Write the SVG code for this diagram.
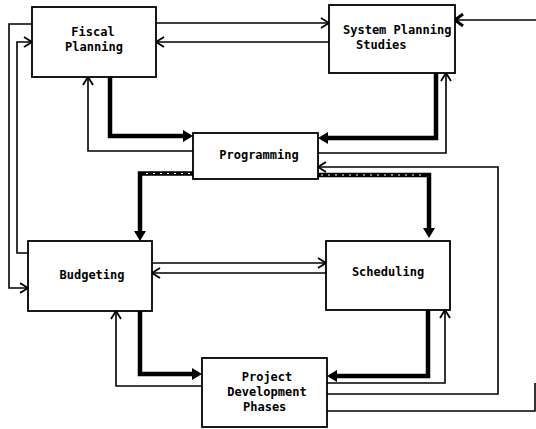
<svg xmlns="http://www.w3.org/2000/svg" width="536" height="429" viewBox="0 0 536 429">
  <style>
    .box { fill: #fff; stroke: #000; stroke-width: 1.8; }
    .lbl { font-family: "DejaVu Sans Mono", "Liberation Mono", monospace; font-weight: bold; font-size: 12px; fill: #000; }
    .thin { fill: none; stroke: #000; stroke-width: 1.6; marker-end: url(#open); }
    .thick { fill: none; stroke: #000; stroke-width: 4.5; stroke-linejoin: miter; marker-end: url(#solid); }
    .grain { fill: none; stroke: #fff; stroke-width: 1.2; stroke-dasharray: 2 5; }
    .plain { fill: none; stroke: #000; stroke-width: 1.6; }
  </style>
  <defs>
    <marker id="open" markerUnits="userSpaceOnUse" viewBox="-12 -8 16 16" markerWidth="16" markerHeight="16" refX="0" refY="0" orient="auto" overflow="visible">
      <path d="M-8,-5 L0,0 L-8,5" fill="none" stroke="#000" stroke-width="1.8"/>
    </marker>
    <marker id="openHeavy" markerUnits="userSpaceOnUse" viewBox="-12 -8 16 16" markerWidth="16" markerHeight="16" refX="0" refY="0" orient="auto" overflow="visible">
      <path d="M-8,-6 L0,0 L-8,6" fill="none" stroke="#000" stroke-width="3"/>
    </marker>
    <marker id="solid" markerUnits="userSpaceOnUse" viewBox="-12 -8 20 16" markerWidth="20" markerHeight="16" refX="0" refY="0" orient="auto" overflow="visible">
      <path d="M-6,-6 L4,0 L-6,6 Z" fill="#000"/>
    </marker>
  </defs>

  <!-- connectors -->
  <g id="connectors">
    <!-- thin feedback / exchange lines -->
    <path class="thin" d="M156,23 H329"/>
    <path class="thin" d="M329,42 H156"/>
    <path class="thin" d="M32,24 H9 V288 H28"/>
    <path class="thin" d="M28,253 H17 V42 H32"/>
    <path class="thin" d="M193,151 H88 V77"/>
    <path class="thin" d="M318,153 H446 V73"/>
    <path class="thin" d="M152,263 H326"/>
    <path class="thin" d="M326,273 H152"/>
    <path class="thin" d="M202,386 H116 V311"/>
    <path class="thin" d="M327,383 H445 V310"/>
    <path class="thin" d="M327,394 H498 V167 H318"/>
    <path class="plain" d="M327,411 H535 V383"/>
    <path class="plain" d="M536,20 H455" marker-end="url(#openHeavy)"/>

    <!-- heavy primary flow lines -->
    <path class="thick" d="M110,77 V136 H189"/>
    <path class="thick" d="M436,73 V138 H322"/>
    <path class="thick" d="M193,173.5 H140 V237"/>
    <path class="grain" d="M190,173.5 H143"/>
    <path class="thick" d="M318,175 H429 V234"/>
    <path class="grain" d="M321,175 H426"/>
    <path class="thick" d="M140,311 V374 H198"/>
    <path class="thick" d="M428,310 V376 H331"/>
  </g>

  <!-- nodes -->
  <g id="fiscal-planning">
    <rect class="box" x="32" y="7" width="124" height="70"/>
    <text class="lbl" x="93" y="36" text-anchor="middle">Fiscal</text>
    <text class="lbl" x="94" y="51" text-anchor="middle">Planning</text>
  </g>
  <g id="system-planning-studies">
    <rect class="box" x="329" y="5" width="126" height="68"/>
    <text class="lbl" x="343" y="34">System Planning</text>
    <text class="lbl" x="356" y="49">Studies</text>
  </g>
  <g id="programming">
    <rect class="box" x="193" y="133" width="125" height="46"/>
    <text class="lbl" x="259" y="159" text-anchor="middle">Programming</text>
  </g>
  <g id="budgeting">
    <rect class="box" x="28" y="241" width="124" height="70"/>
    <text class="lbl" x="92" y="279" text-anchor="middle">Budgeting</text>
  </g>
  <g id="scheduling">
    <rect class="box" x="326" y="241" width="124" height="69"/>
    <text class="lbl" x="388" y="276" text-anchor="middle">Scheduling</text>
  </g>
  <g id="project-development-phases">
    <rect class="box" x="202" y="358" width="125" height="69"/>
    <text class="lbl" x="267" y="381" text-anchor="middle">Project</text>
    <text class="lbl" x="267" y="396" text-anchor="middle">Development</text>
    <text class="lbl" x="243" y="411">Phases</text>
  </g>
</svg>
